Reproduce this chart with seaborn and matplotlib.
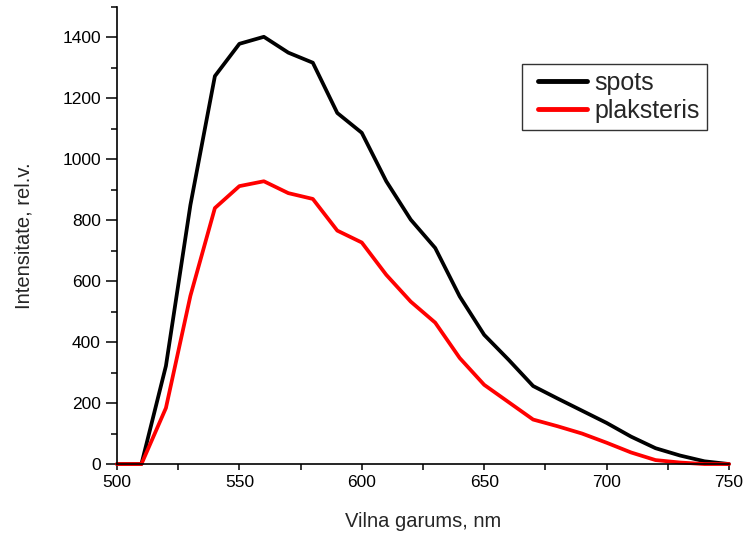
import numpy as np
import pandas as pd
import matplotlib
matplotlib.use('Agg')
import matplotlib.pyplot as plt
from matplotlib.ticker import MultipleLocator
from matplotlib.lines import Line2D
from matplotlib.legend_handler import HandlerLine2D
import seaborn as sns

# -----------------------

wavelength = [500, 510, 520, 530, 540, 550, 560, 570, 580, 590, 600, 610, 620,
	630, 640, 650, 660, 670, 680, 690, 700, 710, 720, 730, 740, 750]

spots = [0, 0, 322, 850, 1273, 1379, 1402, 1350, 1317, 1152, 1087, 928, 802,
	709, 550, 424, 342, 256, 215, 175, 135, 90, 52, 28, 9, 0]

plaksteris = [0, 0, 184, 552, 840, 912, 928, 889, 870, 766, 727, 621, 533,
	464, 348, 260, 203, 146, 124, 100, 70, 38, 13, 5, 0, 0]

series_names = ['spots', 'plaksteris']
palette = ['black', '#ff0000']

# -----------------------

sns.set_style('ticks')
plt.rcParams['font.family'] = ['Liberation Sans', 'DejaVu Sans']

df = pd.DataFrame({'wl': wavelength, 'spots': spots, 'plaksteris': plaksteris})
df = df.melt(id_vars='wl', var_name='sample', value_name='intensity')

fig = plt.figure(figsize=(7.45, 5.34), dpi=100)
ax = fig.add_axes([0.157, 0.131, 0.8215, 0.856])

sns.lineplot(data=df, x='wl', y='intensity', hue='sample', hue_order=series_names,
	palette=palette, linewidth=2.7, ax=ax, clip_on=False)

ax.set_xlim(500, 750)
ax.set_ylim(0, 1500)
ax.xaxis.set_major_locator(MultipleLocator(50))
ax.xaxis.set_minor_locator(MultipleLocator(25))
ax.yaxis.set_major_locator(MultipleLocator(200))
ax.yaxis.set_minor_locator(MultipleLocator(100))

ax.tick_params(axis='both', which='both', direction='out', width=1.1, color='black',
	labelsize=12.5, labelcolor='black')
ax.tick_params(axis='y', which='major', length=8)
ax.tick_params(axis='y', which='minor', length=4)
ax.tick_params(axis='x', which='both', length=4.5)

for s in ['top', 'right']:
	ax.spines[s].set_visible(False)
for s in ['left', 'bottom']:
	ax.spines[s].set_linewidth(1.2)
	ax.spines[s].set_color('black')

ax.set_xlabel('Vilna garums, nm', fontsize=14.5, labelpad=16)
ax.set_ylabel('Intensitate, rel.v.', fontsize=14.5, labelpad=21)

handles, labels = ax.get_legend_handles_labels()
leg = ax.legend(handles, labels, loc='upper left', bbox_to_anchor=(0.662, 0.876),
	fontsize=18, frameon=True, fancybox=False, edgecolor='#333333', framealpha=1,
	handlelength=2.3, handletextpad=0.3, borderpad=0.3, labelspacing=0.15,
	borderaxespad=0, handler_map={Line2D: HandlerLine2D(xpad=0.35)})
leg.get_frame().set_linewidth(1.0)
for h in leg.get_lines():
	h.set_linewidth(3.5)

plt.savefig('out.png', dpi=100)
